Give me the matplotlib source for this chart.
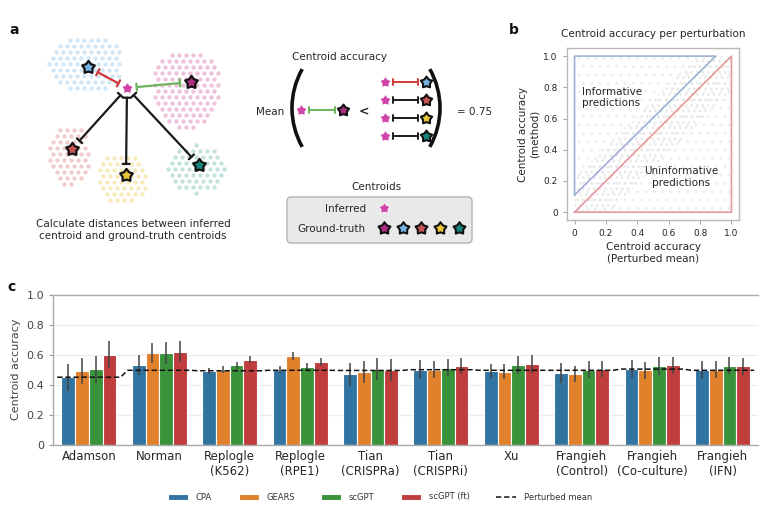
import matplotlib
matplotlib.use("Agg")
import matplotlib.pyplot as plt  # plotting
import numpy as np  # numerical helpers
from matplotlib.path import Path
from matplotlib.markers import MarkerStyle
from matplotlib.patches import Arc, FancyBboxPatch

# ---- data for panel c ----
datasets = ["Adamson", "Norman", "Replogle\n(K562)", "Replogle\n(RPE1)", "Tian\n(CRISPRa)",
            "Tian\n(CRISPRi)", "Xu", "Frangieh\n(Control)", "Frangieh\n(Co-culture)", "Frangieh\n(IFN)"]
methods = ["CPA", "GEARS", "scGPT", "scGPT (ft)"]
cpa = [0.45, 0.53, 0.49, 0.50, 0.47, 0.50, 0.49, 0.48, 0.505, 0.50]
gears = [0.49, 0.61, 0.50, 0.59, 0.485, 0.50, 0.487, 0.473, 0.496, 0.50]
scgpt = [0.503, 0.613, 0.529, 0.516, 0.505, 0.513, 0.529, 0.50, 0.527, 0.527]
scgpt_ft = [0.598, 0.62, 0.567, 0.551, 0.498, 0.524, 0.536, 0.504, 0.529, 0.522]
cpa_err = [0.09, 0.067, 0.02, 0.025, 0.076, 0.062, 0.047, 0.067, 0.06, 0.06]
gears_err = [0.087, 0.065, 0.025, 0.025, 0.076, 0.058, 0.05, 0.053, 0.055, 0.055]
scgpt_err = [0.09, 0.072, 0.025, 0.027, 0.075, 0.055, 0.06, 0.055, 0.06, 0.058]
ft_err = [0.09, 0.072, 0.025, 0.025, 0.072, 0.055, 0.06, 0.055, 0.058, 0.058]
perturbed_mean = [0.45, 0.496, 0.493, 0.496, 0.495, 0.50, 0.496, 0.496, 0.504, 0.496]
yticks_c = [0, 0.2, 0.4, 0.6, 0.8, 1.0]
ytick_labels_c = ["0", "0.2", "0.4", "0.6", "0.8", "1.0"]

# ---- panel b regions ----
informative_x = [0, 0, 0.9, 0]
informative_y = [0.11, 1.0, 1.0, 0.11]
uninformative_x = [0, 1, 1, 0]
uninformative_y = [0, 1, 0, 0]
ticks_b = [0, 0.2, 0.4, 0.6, 0.8, 1.0]
tick_labels_b = ["0", "0.2", "0.4", "0.6", "0.8", "1.0"]

colors = ["#3274a1", "#e1812c", "#3a923a", "#c03d3e"]
TXT = "#262626"
W, H = 774, 514

fig = plt.figure(figsize=(7.74, 5.14), dpi=100)


def frac(left, top, right, bottom):
    return [left / W, 1 - bottom / H, (right - left) / W, (bottom - top) / H]


# ---------- panel a: schematic in pixel coordinates ----------
ax_a = fig.add_axes([0, 0, 1, 1])
ax_a.set_xlim(0, W)
ax_a.set_ylim(H, 0)
ax_a.axis("off")

ang = np.pi / 2 + np.arange(10) * np.pi / 5
rad = np.where(np.arange(10) % 2 == 0, 1.0, 0.62)
star_verts = np.c_[rad * np.cos(ang), rad * np.sin(ang)]
star = MarkerStyle(Path(np.vstack([star_verts, star_verts[:1]]), closed=True), joinstyle="round")

inferred_col = "#cf45a8"
gt_cols = {"pink": "#b02e82", "blue": "#74b3e6", "red": "#c85454", "yellow": "#e9c53c", "teal": "#16857b"}
light_cols = {"pink": "#eec3dc", "blue": "#d2e6f5", "red": "#f0cccc", "yellow": "#f7ebbb", "teal": "#c4e2de"}

# cluster blobs: centre x, y, radius x, radius y
clusters = {"blue": (86, 64, 37, 30), "pink": (186, 89, 35, 40), "red": (68, 155, 22, 31),
            "yellow": (122, 178, 26, 26), "teal": (196, 169, 28, 24)}
gt_pos = {"blue": (88, 67), "pink": (191, 82), "red": (72, 149), "yellow": (126, 175), "teal": (199, 165)}
inf_pos = (127, 88)

for k, (cx, cy, rx, ry) in clusters.items():
    gx, gy = np.meshgrid(np.arange(-rx, rx + 1, 7.0), np.arange(-ry, ry + 1, 6.0))
    gx = gx + (np.round(gy / 6.0) % 2) * 3.5
    inside = (gx / rx) ** 2 + (gy / ry) ** 2 <= 1
    ax_a.scatter(cx + gx[inside], cy + gy[inside], s=10, color=light_cols[k], lw=0, zorder=1)

line_cols = {"blue": "#d03a3a", "pink": "#6db35c", "red": "#1a1a1a", "yellow": "#1a1a1a", "teal": "#1a1a1a"}
for k, p in gt_pos.items():
    ax_a.annotate("", xy=p, xytext=inf_pos,
                  arrowprops=dict(arrowstyle="|-|, widthA=0.25, widthB=0.25", color=line_cols[k],
                                  lw=1.6, shrinkA=7, shrinkB=8), zorder=2)
    ax_a.plot(*p, marker=star, ms=9.5, mfc=gt_cols[k], mec="#111111", mew=1.6, zorder=3)
ax_a.plot(*inf_pos, marker=star, ms=9, mfc=inferred_col, mec="white", mew=0.8, zorder=3)

ax_a.text(133, 230, "Calculate distances between inferred\ncentroid and ground-truth centroids",
          ha="center", va="center", fontsize=7.5, color=TXT, linespacing=1.3)

# formula
ax_a.text(340, 57, "Centroid accuracy", ha="center", va="center", fontsize=7.5, color=TXT)
ax_a.text(270, 112, "Mean", ha="center", va="center", fontsize=7.5, color=TXT)
ax_a.add_patch(Arc((371, 108), 158, 158, theta1=150.5, theta2=209.5, lw=2.6, color="#111111"))
ax_a.add_patch(Arc((361, 108), 158, 158, theta1=-29.5, theta2=29.5, lw=2.6, color="#111111"))
ax_a.text(475, 112, "= 0.75", ha="center", va="center", fontsize=7.5, color=TXT)
ax_a.text(364, 112, "<", ha="center", va="center", fontsize=9, fontweight="bold", color=TXT)

ax_a.annotate("", xy=(343, 110), xytext=(301, 110),
              arrowprops=dict(arrowstyle="|-|, widthA=0.25, widthB=0.25", color="#6db35c",
                              lw=1.4, shrinkA=6, shrinkB=6))
ax_a.plot(301, 110, marker=star, ms=8.5, mfc=inferred_col, mec="white", mew=0.6)
ax_a.plot(343, 110, marker=star, ms=8.5, mfc=gt_cols["pink"], mec="#111111", mew=1.5)

rows = [("blue", "#d03a3a", 82), ("red", "#1a1a1a", 100), ("yellow", "#1a1a1a", 118), ("teal", "#1a1a1a", 136)]
for k, c, y in rows:
    ax_a.annotate("", xy=(426, y), xytext=(385, y),
                  arrowprops=dict(arrowstyle="|-|, widthA=0.25, widthB=0.25", color=c,
                                  lw=1.4, shrinkA=6, shrinkB=6))
    ax_a.plot(385, y, marker=star, ms=8.5, mfc=inferred_col, mec="white", mew=0.6)
    ax_a.plot(426, y, marker=star, ms=8.5, mfc=gt_cols[k], mec="#111111", mew=1.5)

# centroid legend box
ax_a.text(376, 187, "Centroids", ha="center", va="center", fontsize=7.5, color=TXT)
ax_a.add_patch(FancyBboxPatch((287, 197), 185, 46, boxstyle="round,pad=0,rounding_size=4",
                              fc="#e9e9e9", ec="#b4b4b4", lw=1))
ax_a.text(366, 209, "Inferred", ha="right", va="center", fontsize=7.5, color=TXT)
ax_a.plot(384, 208, marker=star, ms=8.5, mfc=inferred_col, mec="white", mew=0.6)
ax_a.text(366, 229, "Ground-truth", ha="right", va="center", fontsize=7.5, color=TXT)
for i, k in enumerate(["pink", "blue", "red", "yellow", "teal"]):
    ax_a.plot(384 + i * 18.7, 228, marker=star, ms=9, mfc=gt_cols[k], mec="#111111", mew=1.5)

# panel letters
ax_a.text(9, 30, "a", fontsize=10, fontweight="bold", va="center", ha="left", color="#111111")
ax_a.text(509, 30, "b", fontsize=10, fontweight="bold", va="center", ha="left", color="#111111")
ax_a.text(7, 287, "c", fontsize=10, fontweight="bold", va="center", ha="left", color="#111111")

# ---------- panel b ----------
ax_b = fig.add_axes(frac(566.7, 48.3, 739.3, 220))
ax_b.set_xlim(-0.05, 1.05)
ax_b.set_ylim(-0.05, 1.05)
ax_b.fill([0, 1, 1, 0], [0, 0, 1, 1], facecolor="none", edgecolor="#efefef", hatch="..", lw=0)
ax_b.fill([0, 0.22, 1, 1, 0.78, 0], [0, 0, 0.78, 1, 1, 0.22], facecolor="none",
          edgecolor="#e6e6e6", hatch="...", lw=0)
ax_b.plot(informative_x, informative_y, color="#9eb1d3", lw=1.2)
ax_b.plot(uninformative_x, uninformative_y, color="#e39a9c", lw=1.2)
ax_b.text(0.05, 0.735, "Informative\npredictions", ha="left", va="center", fontsize=7.5,
          color=TXT, linespacing=1.2)
ax_b.text(0.68, 0.225, "Uninformative\npredictions", ha="center", va="center", fontsize=7.5,
          color=TXT, linespacing=1.2)
ax_b.set_xticks(ticks_b)
ax_b.set_xticklabels(tick_labels_b)
ax_b.set_yticks(ticks_b)
ax_b.set_yticklabels(tick_labels_b)
ax_b.tick_params(labelsize=6.5, colors="#aaaaaa", labelcolor=TXT, length=3, width=0.8)
for s in ax_b.spines.values():
    s.set_color("#b8b8b8")
    s.set_linewidth(1)
ax_b.set_title("Centroid accuracy per perturbation", fontsize=7.5, color=TXT, pad=8)
ax_b.set_xlabel("Centroid accuracy\n(Perturbed mean)", fontsize=7.5, color=TXT, labelpad=3)
ax_b.set_ylabel("Centroid accuracy\n(method)", fontsize=7.5, color=TXT, labelpad=3)

# ---------- panel c ----------
ax_c = fig.add_axes(frac(53, 294.7, 757.7, 444.7))
x = np.arange(len(datasets))
w = 0.195
values = [cpa, gears, scgpt, scgpt_ft]
errs = [cpa_err, gears_err, scgpt_err, ft_err]
bar_handles = []
for i, (v, e) in enumerate(zip(values, errs)):
    xs = x + (i - 1.5) * w
    b = ax_c.bar(xs, v, width=w, color=colors[i], edgecolor="white", lw=0.8, label=methods[i], zorder=2)
    bar_handles.append(b)
    ax_c.errorbar(xs, v, yerr=e, fmt="none", ecolor="#444444", elinewidth=1.1, capsize=0, zorder=3)

mx, my = [], []
for g, m in zip(x, perturbed_mean):
    mx += [g - 0.45, g + 0.45]
    my += [m, m]
mean_line, = ax_c.plot(mx, my, color="#111111", ls=(0, (3.5, 1.8)), lw=1.1, zorder=4)

ax_c.set_xlim(-0.51, 9.5)
ax_c.set_ylim(0, 1.0)
ax_c.set_yticks(yticks_c)
ax_c.set_yticklabels(ytick_labels_c)
ax_c.set_xticks(x)
ax_c.set_xticklabels(datasets, fontsize=8.5, color=TXT, linespacing=1.2)
ax_c.tick_params(axis="y", labelsize=8, colors="#999999", labelcolor="#444444", length=3)
ax_c.tick_params(axis="x", length=0, pad=4)
ax_c.set_ylabel("Centroid accuracy", fontsize=8, color="#444444")
ax_c.yaxis.grid(True, color="#ececec", lw=0.8, zorder=0)
ax_c.set_axisbelow(True)
for side in ["left", "bottom", "top"]:
    ax_c.spines[side].set_color("#aaaaaa")
    ax_c.spines[side].set_linewidth(1)
ax_c.spines["right"].set_visible(False)

fig.legend(bar_handles + [mean_line], methods + ["Perturbed mean"], loc="center",
           bbox_to_anchor=(380 / W, 1 - 497 / H), ncol=5, frameon=False, fontsize=6,
           handlelength=2.4, columnspacing=3.2, handletextpad=0.9, labelcolor="#333333")

fig.savefig("out.png", dpi=100)
